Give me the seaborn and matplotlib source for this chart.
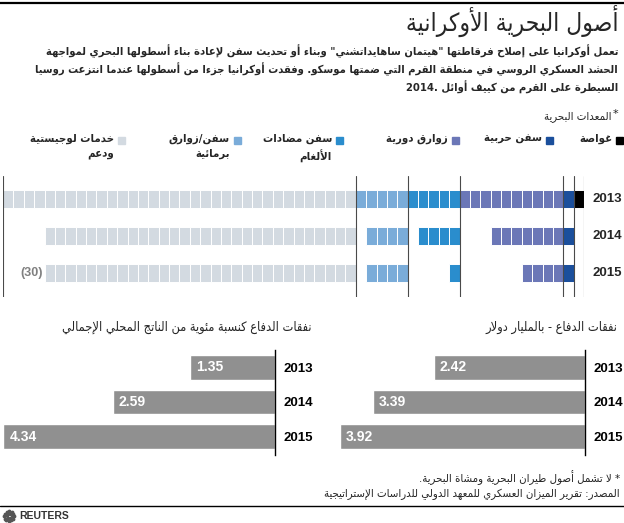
import re
import matplotlib
matplotlib.use("Agg")
import matplotlib.pyplot as plt
from matplotlib.lines import Line2D
from matplotlib.patches import Rectangle
import numpy as np
import seaborn as sns

# ---- data ----
years = ["2013", "2014", "2015"]

# naval equipment, number of vessels per year
submarines = [1, 0, 0]
warships = [1, 1, 1]
patrol_boats = [10, 7, 4]
mine_ships = [5, 4, 1]
amphibious = [5, 4, 4]
logistics = [34, 30, 30]

equip_labels = ["غواصة", "سفن حربية", "زوارق دورية", "سفن مضادات\nالألغام",
                "سفن/زوارق\nبرمائية", "خدمات لوجيستية\nودعم"]
equip_colors = ["#000000", "#1b4f9c", "#6b77b7", "#2a8dcd", "#7aacd9", "#d3dae1"]

spend_bn = [2.42, 3.39, 3.92]
spend_gdp = [1.35, 2.59, 4.34]

title = "أصول البحرية الأوكرانية"
subtitle = [
    "تعمل أوكرانيا على إصلاح فرقاطتها \"هيتمان ساهايداتشني\" وبناء أو تحديث سفن لإعادة بناء أسطولها البحري لمواجهة",
    "الحشد العسكري الروسي في منطقة القرم التي ضمتها موسكو. وفقدت أوكرانيا جزءا من أسطولها عندما انتزعت روسيا",
    "السيطرة على القرم من كييف أوائل 2014.",
]
section_label = "المعدات البحرية"
title_bn = "نفقات الدفاع - بالمليار دولار"
title_gdp = "نفقات الدفاع كنسبة مئوية من الناتج المحلي الإجمالي"
note = "* لا تشمل أصول طيران البحرية ومشاة البحرية."
source = "المصدر: تقرير الميزان العسكري للمعهد الدولي للدراسات الإستراتيجية"

# ---- arabic shaping (matplotlib has no RTL layout) ----
DUAL = {"ئ": 0xFE89, "ب": 0xFE8F, "ت": 0xFE95, "ث": 0xFE99, "ج": 0xFE9D, "ح": 0xFEA1,
        "خ": 0xFEA5, "س": 0xFEB1, "ش": 0xFEB5, "ص": 0xFEB9, "ض": 0xFEBD, "ط": 0xFEC1,
        "ظ": 0xFEC5, "ع": 0xFEC9, "غ": 0xFECD, "ف": 0xFED1, "ق": 0xFED5, "ك": 0xFED9,
        "ل": 0xFEDD, "م": 0xFEE1, "ن": 0xFEE5, "ه": 0xFEE9, "ي": 0xFEF1}
RIGHT = {"آ": 0xFE81, "أ": 0xFE83, "ؤ": 0xFE85, "إ": 0xFE87, "ا": 0xFE8D, "ة": 0xFE93,
         "د": 0xFEA9, "ذ": 0xFEAB, "ر": 0xFEAD, "ز": 0xFEAF, "و": 0xFEED, "ى": 0xFEEF}
LAM_ALEF = {"آ": 0xFEF5, "أ": 0xFEF7, "إ": 0xFEF9, "ا": 0xFEFB}
MIRROR = {"(": ")", ")": "("}


def shape(line):
    toks = []
    i = 0
    while i < len(line):
        c = line[i]
        if c == "ل" and i + 1 < len(line) and line[i + 1] in LAM_ALEF:
            toks.append(("LA", line[i + 1]))
            i += 2
        else:
            toks.append(("C", c))
            i += 1

    def fwd(t):
        return t[0] == "C" and t[1] in DUAL

    def back(t):
        return t[0] == "LA" or t[1] in DUAL or t[1] in RIGHT

    out = []
    for k, t in enumerate(toks):
        p = k > 0 and fwd(toks[k - 1]) and back(t)
        n = k + 1 < len(toks) and fwd(t) and back(toks[k + 1])
        c = t[1]
        if t[0] == "LA":
            out.append(chr(LAM_ALEF[c] + p))
        elif c in DUAL:
            out.append(chr(DUAL[c] + (3 if p and n else 1 if p else 2 if n else 0)))
        elif c in RIGHT:
            out.append(chr(RIGHT[c] + p))
        else:
            out.append(c)
    return "".join(out)


def ar(text):
    lines = []
    for line in text.split("\n"):
        runs = re.findall(r"[0-9A-Za-z][0-9A-Za-z.,%]*|.", shape(line))
        lines.append("".join(MIRROR.get(r, r) for r in reversed(runs)))
    return "\n".join(lines)


# ---- figure ----
sns.set_theme(style="white")
plt.rcParams["font.family"] = ["DejaVu Sans"]
NUM = "Liberation Sans"
AR = dict(stretch="condensed")

W, H = 624, 523
fig = plt.figure(figsize=(W / 100, H / 100), dpi=100)
renderer = fig.canvas.get_renderer()


def px_box(x0, y0, x1, y1):
    return [x0 / W, 1 - y1 / H, (x1 - x0) / W, (y1 - y0) / H]


def ftext(x, y, s, **kw):
    return fig.text(x / W, 1 - y / H, s, **kw)


def fit_size(s, width, **kw):
    # font size that makes text s about `width` pixels wide
    t = fig.text(0, 0, s, fontsize=10, **kw)
    w = t.get_window_extent(renderer).width
    t.remove()
    return 10 * width / w


def hline(y, lw):
    fig.add_artist(Line2D([0, 1], [1 - y / H] * 2, color="black", lw=lw))


hline(3, 1.6)
ftext(618, 21, ar(title), ha="right", va="center",
      fontsize=fit_size(ar(title), 213, **AR), **AR)
sub_fs = fit_size(ar(subtitle[0]), 574, fontweight="bold", **AR)
for k, line in enumerate(subtitle):
    ftext(618, 51 + 18 * k, ar(line), ha="right", va="center", fontsize=sub_fs,
          fontweight="bold", **AR)
ftext(612, 117, ar(section_label), ha="right", va="center", fontsize=8.2, **AR)
ftext(613, 114, "*", ha="left", va="center", fontsize=8.2)

# legend, right to left
leg_fs = fit_size(ar(equip_labels[2]), 62, fontweight="bold", **AR)
sq_x = [616, 546, 452, 336, 234, 118]
for x, lab, col in zip(sq_x, equip_labels, equip_colors):
    fig.add_artist(Rectangle((x / W, 1 - 144 / H), 7 / W, 7 / H, color=col,
                             transform=fig.transFigure))
    ftext(x - 4, 134, ar(lab), ha="right", va="top", ma="right", fontsize=leg_fs,
          fontweight="bold", linespacing=1.5, **AR)

# ---- waffle of vessels ----
ax = fig.add_axes(px_box(3, 176, 584, 297))
cell_h = 0.49
slots = [logistics, amphibious, mine_ships, patrol_boats, warships, submarines]
slot_colors = equip_colors[::-1]
ax.axvline(0, color="#4a4a4a", lw=0.8, zorder=3)
end = 0
for counts, col in zip(slots, slot_colors):
    end += max(counts)
    for row, n in enumerate(counts):
        lefts = [end - n + k for k in range(n)]
        ax.barh([row] * n, [1] * n, left=lefts, height=cell_h, color=col,
                edgecolor="white", linewidth=0.7)
    ax.axvline(end, color="#4a4a4a", lw=0.8, zorder=3)
ax.set_xlim(0, end)
ax.set_ylim(2.65, -0.62)
ax.axis("off")
for row, yr in enumerate(years):
    ax.text(end + 0.85, row, yr, ha="left", va="center", fontsize=9.5,
            fontweight="bold", family=NUM, clip_on=False)
log_start = max(logistics) - logistics[2]
ax.text(log_start - 0.2, 2, f"({logistics[2]})", ha="right", va="center",
        fontsize=9, color="#808080", family=NUM, fontweight="bold")

# ---- spending bars ----
PX_PER_UNIT = 62.6
head_fs = fit_size(ar(title_gdp), 250, **AR)


def spend_chart(box, values, xmax, head, head_x):
    a = fig.add_axes(px_box(*box))
    sns.barplot(x=values, y=years, orient="h", color="#909090", saturation=1,
                width=0.72, errorbar=None, ax=a)
    a.set_xlim(xmax, 0)
    a.set_ylim(2.536, -0.507)
    a.set_xlabel("")
    a.set_ylabel("")
    a.set_xticks([])
    sns.despine(ax=a, left=True, top=True, bottom=True, right=False)
    a.spines["right"].set_color("black")
    a.spines["right"].set_linewidth(1.0)
    a.yaxis.tick_right()
    a.tick_params(axis="y", length=0, pad=6)
    for t in a.get_yticklabels():
        t.set_fontweight("bold")
        t.set_fontsize(9.5)
        t.set_family(NUM)
        t.set_color("black")
    for i, v in enumerate(values):
        a.text(v - 6 / PX_PER_UNIT, i, f"{v:.2f}", ha="left", va="center",
               color="white", fontweight="bold", fontsize=10, family=NUM)
    ftext(head_x, 327, ar(head), ha="right", va="center", fontsize=head_fs, **AR)
    return a


spend_chart((330, 350, 585, 455), spend_bn, 255 / PX_PER_UNIT, title_bn, 617)
spend_chart((0, 350, 275, 455), spend_gdp, 275 / PX_PER_UNIT, title_gdp, 312)

# ---- footer ----
foot_fs = fit_size(ar(source), 296, **AR)
ftext(620, 478, ar(note), ha="right", va="center", fontsize=foot_fs, **AR)
ftext(620, 494, ar(source), ha="right", va="center", fontsize=foot_fs, **AR)
hline(506, 1.0)
ang = np.linspace(0, 2 * np.pi, 12, endpoint=False)
logo = fig.add_axes(px_box(2, 509, 16, 523))
logo.scatter(np.cos(ang), np.sin(ang), s=3, color="#555555")
logo.scatter(0.5 * np.cos(ang[::2]), 0.5 * np.sin(ang[::2]), s=2, color="#555555")
logo.set_xlim(-1.4, 1.4)
logo.set_ylim(-1.4, 1.4)
logo.axis("off")
ftext(19, 516, "REUTERS", ha="left", va="center", fontsize=7.5,
      fontweight="bold", family=NUM, color="#333333")

fig.savefig("out.png", dpi=100)
